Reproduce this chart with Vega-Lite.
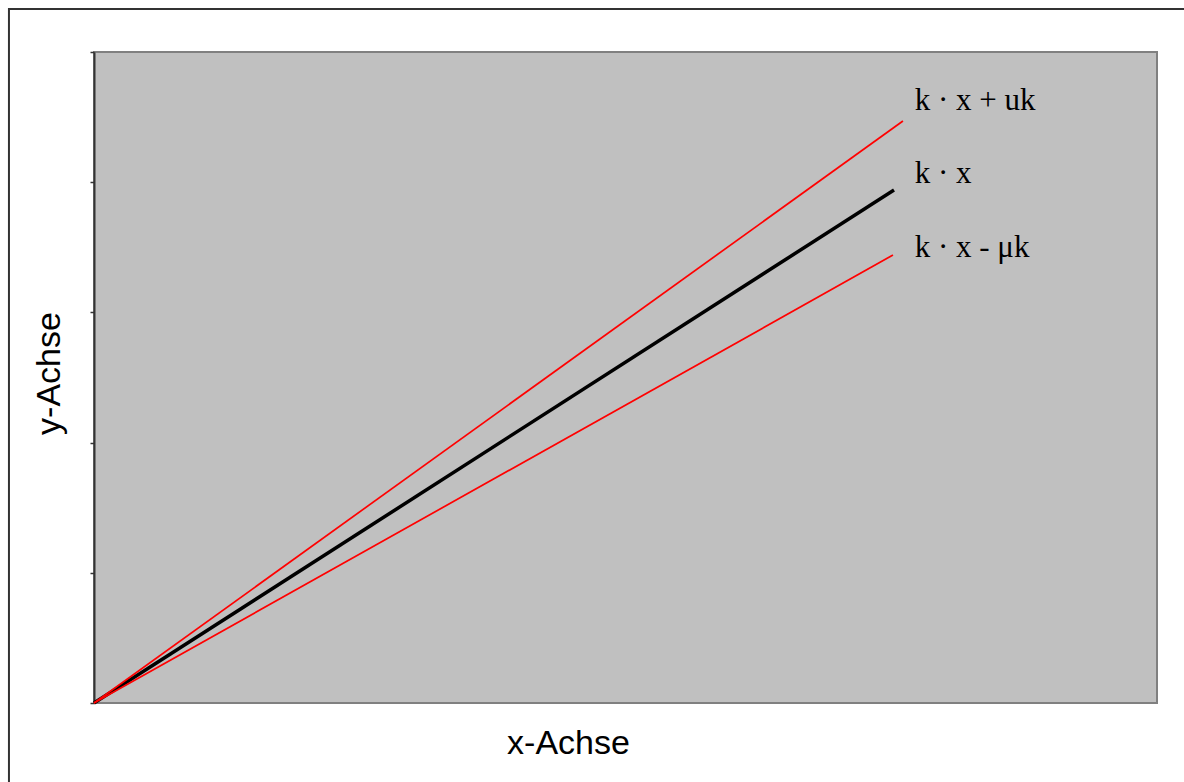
{
  "$schema": "https://vega.github.io/schema/vega-lite/v6.json",
  "width": 1063,
  "height": 651,
  "autosize": {"type": "none"},
  "padding": {"left": 94, "top": 52, "right": 27, "bottom": 79},
  "background": "white",
  "config": {
    "view": {"fill": "#c0c0c0", "stroke": "#808080", "strokeWidth": 2},
    "axis": {"grid": false}
  },
  "datasets": {
    "lines": [
      {"series": "k · x", "x": 0, "y": 0},
      {"series": "k · x", "x": 7.526, "y": 3.94},
      {"series": "k · x + uk", "x": 0, "y": 0},
      {"series": "k · x + uk", "x": 7.61, "y": 4.47},
      {"series": "k · x - μk", "x": 0, "y": 0},
      {"series": "k · x - μk", "x": 7.516, "y": 3.44}
    ],
    "labels": [
      {"label": "k · x + uk", "x": 7.72, "y": 4.555},
      {"label": "k · x", "x": 7.72, "y": 3.994},
      {"label": "k · x - μk", "x": 7.72, "y": 3.425}
    ],
    "frame": [
      {"x": -0.8, "x2": 11, "y": 5.33, "y2": -0.9}
    ]
  },
  "encoding": {
    "x": {
      "field": "x", "type": "quantitative",
      "scale": {"domain": [0, 10], "nice": false, "zero": false},
      "axis": {
        "title": "x-Achse", "domain": false, "ticks": false, "labels": false,
        "titleFont": "Liberation Sans", "titleFontSize": 34, "titleFontWeight": "normal",
        "titleColor": "black", "titleBaseline": "alphabetic", "titleAlign": "center",
        "titleX": 474, "titleY": 50
      }
    },
    "y": {
      "field": "y", "type": "quantitative",
      "scale": {"domain": [0, 5], "nice": false, "zero": false},
      "axis": {
        "title": "y-Achse", "values": [0, 1, 2, 3, 4, 5], "labels": false,
        "domainColor": "#333333", "domainWidth": 2,
        "tickColor": "#333333", "tickSize": 4, "tickWidth": 1.5,
        "titleFont": "Liberation Sans", "titleFontSize": 34, "titleFontWeight": "normal",
        "titleColor": "black", "titleBaseline": "alphabetic", "titleAngle": -90,
        "titleAlign": "center", "titleX": -35, "titleY": 321
      }
    }
  },
  "layer": [
    {
      "data": {"name": "frame"},
      "mark": {"type": "rect", "fill": null, "stroke": "#333333", "strokeWidth": 2, "clip": false},
      "encoding": {
        "x": {"field": "x", "type": "quantitative"},
        "x2": {"field": "x2"},
        "y": {"field": "y", "type": "quantitative"},
        "y2": {"field": "y2"}
      }
    },
    {
      "data": {"name": "lines"},
      "transform": [{"filter": "datum.series === 'k · x'"}],
      "mark": {"type": "line", "color": "black", "strokeWidth": 3.5},
      "encoding": {"detail": {"field": "series"}}
    },
    {
      "data": {"name": "lines"},
      "transform": [{"filter": "datum.series !== 'k · x'"}],
      "mark": {"type": "line", "color": "#ff0000", "strokeWidth": 1.7},
      "encoding": {"detail": {"field": "series"}}
    },
    {
      "data": {"name": "labels"},
      "mark": {"type": "text", "align": "left", "baseline": "alphabetic", "font": "Liberation Serif", "fontSize": 31, "color": "black"},
      "encoding": {"text": {"field": "label"}}
    }
  ]
}
